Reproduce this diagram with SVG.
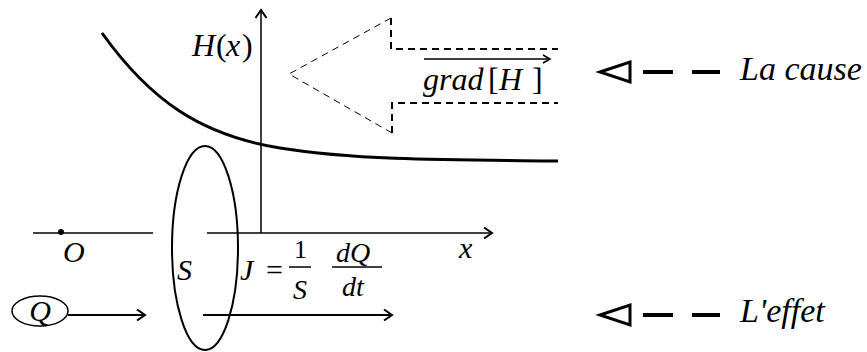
<svg xmlns="http://www.w3.org/2000/svg" width="867" height="352" viewBox="0 0 867 352" font-family="Liberation Serif, Times New Roman, serif">
<defs>
<style>
.t{font-style:italic;fill:#000}
.m{fill:#000}
.ln{stroke:#000;fill:none}
</style>
<marker id="ah" markerWidth="12" markerHeight="12" refX="10" refY="6" orient="auto" markerUnits="userSpaceOnUse">
<path d="M2,0.5 L10,6 L2,11.5" fill="none" stroke="#000" stroke-width="2"/>
</marker>
<marker id="ahs" markerWidth="10" markerHeight="10" refX="8" refY="5" orient="auto" markerUnits="userSpaceOnUse">
<path d="M1,1 L8,5 L1,9" fill="none" stroke="#000" stroke-width="1.6"/>
</marker>
</defs>
<rect width="867" height="352" fill="#fff"/>

<g id="axes">
<line class="ln" x1="261" y1="233" x2="261" y2="10" stroke-width="1.5" marker-end="url(#ah)"/>
<line class="ln" x1="33" y1="233" x2="153" y2="233" stroke-width="1.5"/>
<line class="ln" x1="207" y1="233" x2="492" y2="233" stroke-width="1.5" marker-end="url(#ah)"/>
<circle cx="61" cy="232" r="3" fill="#000"/>
<text class="t" x="63" y="262" font-size="30">O</text>
<text class="t" x="459" y="258" font-size="30">x</text>
<text class="t" x="192" y="56" font-size="32">H</text>
<text class="m" x="216" y="56" font-size="32">(</text>
<text class="t" x="226" y="56" font-size="32">x</text>
<text class="m" x="242" y="56" font-size="32">)</text>
</g>

<g id="curve">
<path class="ln" d="M102,33 C150,100 200,135 280,148 S460,160 558,161" stroke-width="3"/>
</g>

<g id="gradient-arrow">
<polyline class="ln" points="391,18 289,74 392,133" stroke-width="1" stroke-dasharray="7,5"/>
<polyline class="ln" points="391,18 391,49 558,49" stroke-width="2" stroke-dasharray="7,5"/>
<polyline class="ln" points="392,133 392,103 558,103" stroke-width="2" stroke-dasharray="7,5"/>
<line class="ln" x1="424" y1="59" x2="550" y2="59" stroke-width="1.5" marker-end="url(#ahs)"/>
<text class="t" x="423" y="90" font-size="32">grad</text>
<text class="m" x="488" y="90" font-size="32">[</text>
<text class="t" x="499" y="90" font-size="32">H</text>
<text class="m" x="532" y="90" font-size="32">]</text>
</g>

<g id="surface">
<ellipse class="ln" cx="205" cy="248" rx="33" ry="102" stroke-width="2"/>
<text class="t" x="177" y="280" font-size="30">S</text>
</g>

<g id="flux">
<text class="t" x="240" y="280" font-size="30">J</text>
<text class="m" x="266" y="280" font-size="30">=</text>
<text class="m" x="294" y="258" font-size="26">1</text>
<line class="ln" x1="289" y1="267" x2="311" y2="267" stroke-width="1.5"/>
<text class="t" x="293" y="299" font-size="28">S</text>
<text class="t" x="336" y="262" font-size="28">dQ</text>
<line class="ln" x1="332" y1="267" x2="382" y2="267" stroke-width="1.5"/>
<text class="t" x="342" y="296" font-size="28">dt</text>
</g>

<g id="charge">
<ellipse class="ln" cx="40" cy="311" rx="28" ry="15" stroke-width="1.5"/>
<text class="t" x="40" y="321" font-size="30" text-anchor="middle">Q</text>
</g>

<g id="connectors">
<line class="ln" x1="68" y1="315" x2="145" y2="315" stroke-width="2" marker-end="url(#ah)"/>
<line class="ln" x1="203" y1="315" x2="392" y2="315" stroke-width="2" marker-end="url(#ah)"/>
</g>

<g id="legend-cause">
<polygon points="600,72 630,62 630,82" fill="none" stroke="#000" stroke-width="3" stroke-linejoin="miter"/>
<line class="ln" x1="643" y1="72" x2="673" y2="72" stroke-width="4"/>
<line class="ln" x1="692" y1="72" x2="720" y2="72" stroke-width="4"/>
<text class="t" x="740" y="80" font-size="34">La cause</text>
</g>

<g id="legend-effet">
<polygon points="600,315 630,305 630,325" fill="none" stroke="#000" stroke-width="3" stroke-linejoin="miter"/>
<line class="ln" x1="643" y1="315" x2="673" y2="315" stroke-width="4"/>
<line class="ln" x1="692" y1="315" x2="720" y2="315" stroke-width="4"/>
<text class="t" x="740" y="322" font-size="34">L'effet</text>
</g>
</svg>
